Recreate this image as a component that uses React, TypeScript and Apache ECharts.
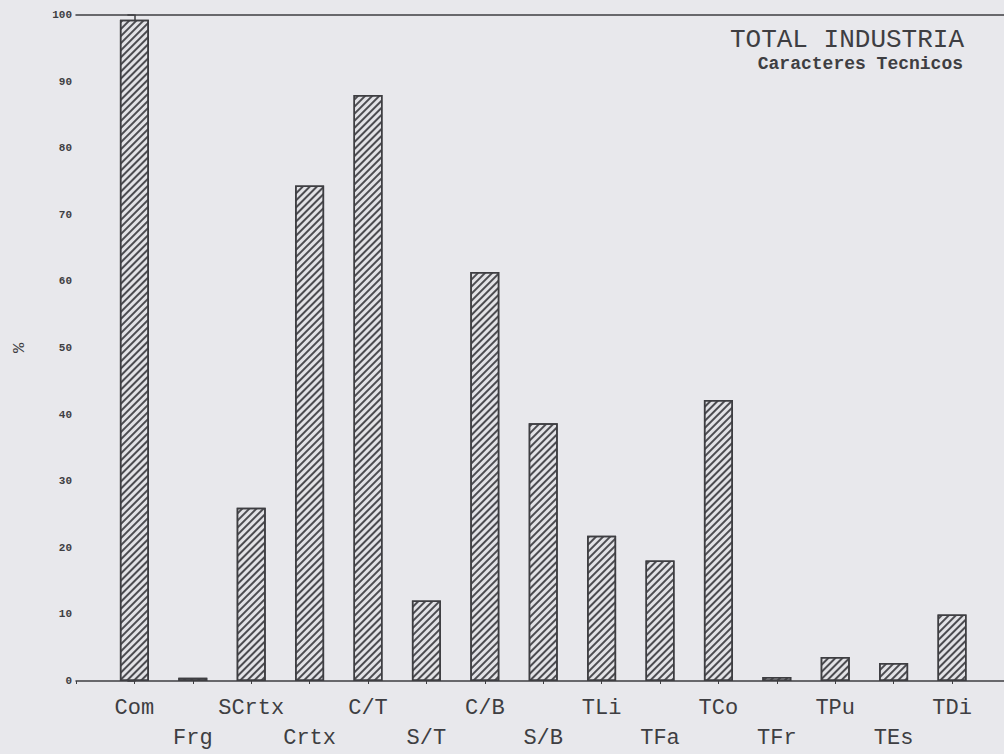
import React, { useEffect, useRef } from 'react';
import * as echarts from 'echarts';

const categories = ['Com', 'Frg', 'SCrtx', 'Crtx', 'C/T', 'S/T', 'C/B', 'S/B', 'TLi', 'TFa', 'TCo', 'TFr', 'TPu', 'TEs', 'TDi'];
const values = [99.3, 0.5, 26.0, 74.4, 88.0, 12.1, 61.4, 38.7, 21.8, 18.1, 42.2, 0.6, 3.6, 2.7, 10.0];
const titleLines = ['TOTAL INDUSTRIA', 'Caracteres Tecnicos'];
const yName = '%';

const INK = '#3e3e42';
const MONO = '"Liberation Mono", "DejaVu Sans Mono", monospace';

export default function App() {
  const ref = useRef<HTMLDivElement>(null);
  useEffect(() => {
    const chart = echarts.init(ref.current!, undefined, { renderer: 'svg' });
    const xMin = -1;
    const xMax = 14.89;
    chart.setOption({
      animation: false,
      backgroundColor: '#e8e8ec',
      grid: { left: 76, right: 0, top: 15, bottom: 73, containLabel: false, outerBoundsMode: 'none' },
      xAxis: [
        {
          type: 'value',
          min: xMin,
          max: xMax,
          interval: 1,
          axisLine: { show: true, lineStyle: { color: INK, width: 1.5 } },
          axisTick: { show: true, length: 3, lineStyle: { color: INK } },
          splitLine: { show: false },
          axisLabel: {
            show: true,
            margin: 12,
            showMaxLabel: false,
            fontFamily: MONO,
            fontSize: 22,
            color: INK,
            lineHeight: 30,
            verticalAlign: 'top',
            formatter: (v: number) => {
              if (v < 0 || v > categories.length - 1 || Math.round(v) !== v) return '';
              return v % 2 === 0 ? categories[v] : '\n' + categories[v];
            },
          },
        },
        {
          type: 'value',
          position: 'top',
          min: xMin,
          max: xMax,
          axisLine: { show: true, lineStyle: { color: INK, width: 1.5 } },
          axisTick: { show: false },
          axisLabel: { show: false },
          splitLine: { show: false },
        },
      ],
      yAxis: {
        type: 'value',
        min: 0,
        max: 100,
        interval: 10,
        name: yName,
        nameLocation: 'middle',
        nameRotate: 90,
        nameGap: 48,
        nameTextStyle: { fontFamily: MONO, fontSize: 17, color: INK },
        axisLine: { show: true, lineStyle: { color: INK, width: 1.5 } },
        axisTick: { show: true, length: 7, lineStyle: { color: INK, width: 1.5 } },
        splitLine: { show: false },
        axisLabel: { fontFamily: MONO, fontSize: 11, fontWeight: 'bold', color: INK, margin: 4 },
      },
      series: [
        {
          type: 'bar',
          xAxisIndex: 0,
          barWidth: 29,
          data: values.map((v, i) => [i, v]),
          itemStyle: {
            color: '#e2e2e6',
            borderColor: INK,
            borderWidth: 1.5,
            decal: {
              symbol: 'rect',
              symbolSize: 1,
              dashArrayX: [1, 0],
              dashArrayY: [1.5, 2.3],
              rotation: -Math.PI / 4,
              color: 'rgba(60,60,64,0.9)',
            },
          },
        },
      ],
      graphic: [
        {
          type: 'text',
          right: 40,
          top: 27,
          style: { text: titleLines[0], fontFamily: MONO, fontSize: 26, lineHeight: 24, fill: INK, textAlign: 'right' },
        },
        {
          type: 'text',
          right: 41,
          top: 55,
          style: { text: titleLines[1], fontFamily: MONO, fontSize: 18, lineHeight: 16, fontWeight: 'bold', fill: INK, textAlign: 'right' },
        },
      ],
    });
    return () => chart.dispose();
  }, []);
  return <div ref={ref} style={{ position: 'fixed', left: 0, top: 0, width: 1004, height: 754 }} />;
}
